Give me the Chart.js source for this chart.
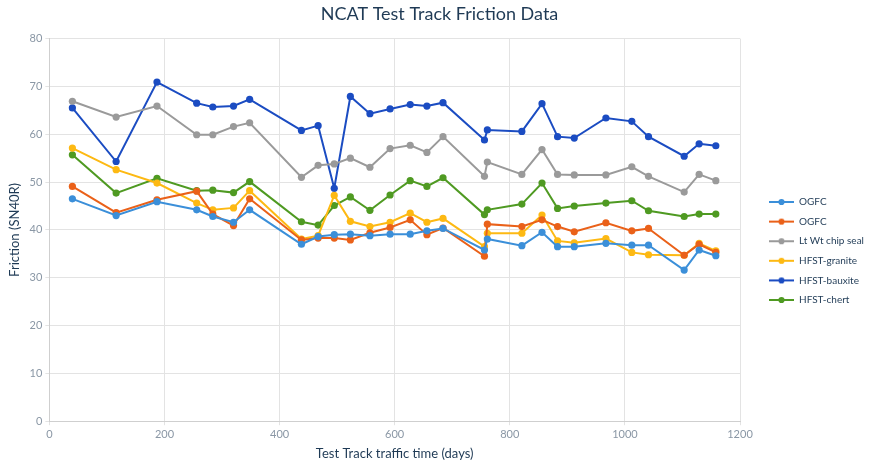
<!DOCTYPE html>
<html>
<head>
<meta charset="utf-8">
<script src="https://cdn.jsdelivr.net/npm/chart.js@4.4.1/dist/chart.umd.min.js"></script>
<style>
html,body{margin:0;padding:0;background:#fff;}
#wrap{width:872px;height:464px;position:relative;}
</style>
</head>
<body>
<div id="wrap"><canvas id="c" width="872" height="464"></canvas></div>
<script>
const days = [40,116,187,256,284,320,348,438,467,495,523,557,592,627,656,684,756,761,821,856,883,912,967,1012,1041,1103,1129,1158];
const ogfc1 = [46.5,43.0,45.9,44.2,42.8,41.6,44.2,37.0,38.6,39.0,39.1,38.8,39.1,39.1,39.8,40.3,35.8,38.1,36.7,39.5,36.5,36.5,37.2,36.8,36.8,31.6,35.8,34.6];
const ogfc2 = [49.1,43.6,46.3,48.1,43.3,40.9,46.5,37.9,38.3,38.3,37.9,39.4,40.5,42.1,39.0,40.4,34.5,41.2,40.7,42.1,40.7,39.6,41.5,39.8,40.3,34.7,37.0,35.3];
const chipSeal = [66.9,63.6,65.9,59.9,59.9,61.6,62.4,51.0,53.5,53.8,55.0,53.1,57.0,57.7,56.2,59.5,51.2,54.2,51.6,56.8,51.6,51.5,51.5,53.2,51.2,47.9,51.6,50.3];
const granite = [57.1,52.6,49.8,45.6,44.2,44.6,48.2,38.1,38.8,47.2,41.8,40.7,41.6,43.5,41.6,42.4,36.5,39.3,39.3,43.1,37.7,37.3,38.2,35.3,34.8,34.7,37.2,35.6];
const bauxite = [65.5,54.3,70.9,66.5,65.7,65.9,67.3,60.8,61.8,48.7,67.9,64.3,65.3,66.2,65.9,66.6,58.8,60.9,60.6,66.4,59.5,59.2,63.4,62.7,59.5,55.4,58.0,57.6];
const chert = [55.7,47.7,50.8,48.2,48.3,47.8,50.1,41.7,41.0,45.1,46.9,44.1,47.3,50.3,49.1,50.9,43.2,44.2,45.4,49.8,44.5,45.0,45.6,46.1,44.0,42.8,43.3,43.3];

const seriesNames = ['OGFC','OGFC','Lt Wt chip seal','HFST-granite','HFST-bauxite','HFST-chert'];
const seriesValues = [ogfc1, ogfc2, chipSeal, granite, bauxite, chert];
const seriesColors = ['#3b8fd9','#ea6119','#9a9a9a','#fdb913','#1b4cc2','#4f9a22'];

function legendIcon(color){
  const cv = document.createElement('canvas');
  cv.width = 25; cv.height = 8;
  const g = cv.getContext('2d');
  g.strokeStyle = color; g.lineWidth = 2;
  g.beginPath(); g.moveTo(0,4); g.lineTo(25,4); g.stroke();
  g.fillStyle = color;
  g.beginPath(); g.arc(12.5,4,3.1,0,Math.PI*2); g.fill();
  return cv;
}

const datasets = seriesNames.map((n,i)=>({
  label: n,
  data: days.map((d,k)=>({x:d, y:seriesValues[i][k]})),
  borderColor: seriesColors[i],
  backgroundColor: seriesColors[i],
  borderWidth: 2,
  pointRadius: 3.6,
  pointHoverRadius: 3.6,
  pointBorderWidth: 0,
  pointStyle: 'circle',
  tension: 0,
  _icon: legendIcon(seriesColors[i])
}));

const FONT = 'Lato, "Noto Sans", sans-serif';
const LEG_PAD = 9.6;

const legendPlacer = {
  id: 'legendPlacer',
  beforeLayout(chart){
    const lg = chart.legend;
    if (lg && !lg._patched){
      const f = lg.fit.bind(lg);
      lg.fit = function(){ f(); this.width = 132; };
      lg._patched = true;
    }
  },
  afterLayout(chart){
    const lg = chart.legend;
    if (lg){ lg.left += (769 - LEG_PAD - 740); lg.top += 40; }
  }
};

new Chart(document.getElementById('c'), {
  type: 'line',
  data: { datasets },
  plugins: [legendPlacer],
  options: {
    responsive: false,
    animation: false,
    devicePixelRatio: 1,
    layout: { padding: { left: 7, right: 0, top: 0, bottom: 2 } },
    plugins: {
      title: {
        display: true,
        text: 'NCAT Test Track Friction Data',
        color: '#1f3a55',
        font: { family: FONT, size: 18, weight: 'normal' },
        padding: { top: 3, bottom: 14 }
      },
      legend: {
        position: 'right',
        align: 'center',
        labels: {
          usePointStyle: true,
          pointStyleWidth: 25,
          color: '#1f3a55',
          font: { family: FONT, size: 10 },
          padding: LEG_PAD,
          boxWidth: 25,
          boxHeight: 8,
          generateLabels(chart){
            return chart.data.datasets.map((ds,i)=>({
              text: ds.label,
              fillStyle: ds.borderColor,
              strokeStyle: ds.borderColor,
              pointStyle: ds._icon,
              fontColor: '#1f3a55',
              lineWidth: 0,
              hidden: false,
              datasetIndex: i
            }));
          }
        }
      },
      tooltip: { enabled: false }
    },
    scales: {
      x: {
        type: 'linear',
        min: 0, max: 1200,
        ticks: { stepSize: 200, color: '#8a97a5', font: { family: FONT, size: 11 }, callback: v => String(v) },
        grid: { color: '#e3e3e3', drawTicks: true, tickLength: 4 },
        border: { color: '#cfcfcf' },
        title: { display: true, text: 'Test Track traffic time (days)', color: '#1f3a55', font: { family: FONT, size: 13 }, padding: { top: 2, bottom: 0 } }
      },
      y: {
        type: 'linear',
        min: 0, max: 80,
        ticks: { stepSize: 10, color: '#8a97a5', font: { family: FONT, size: 11 } },
        grid: { color: '#e3e3e3', drawTicks: true, tickLength: 4 },
        border: { color: '#cfcfcf' },
        title: { display: true, text: 'Friction (SN40R)', color: '#1f3a55', font: { family: FONT, size: 13 }, padding: { top: 0, bottom: 4 } }
      }
    }
  }
});
</script>
</body>
</html>
